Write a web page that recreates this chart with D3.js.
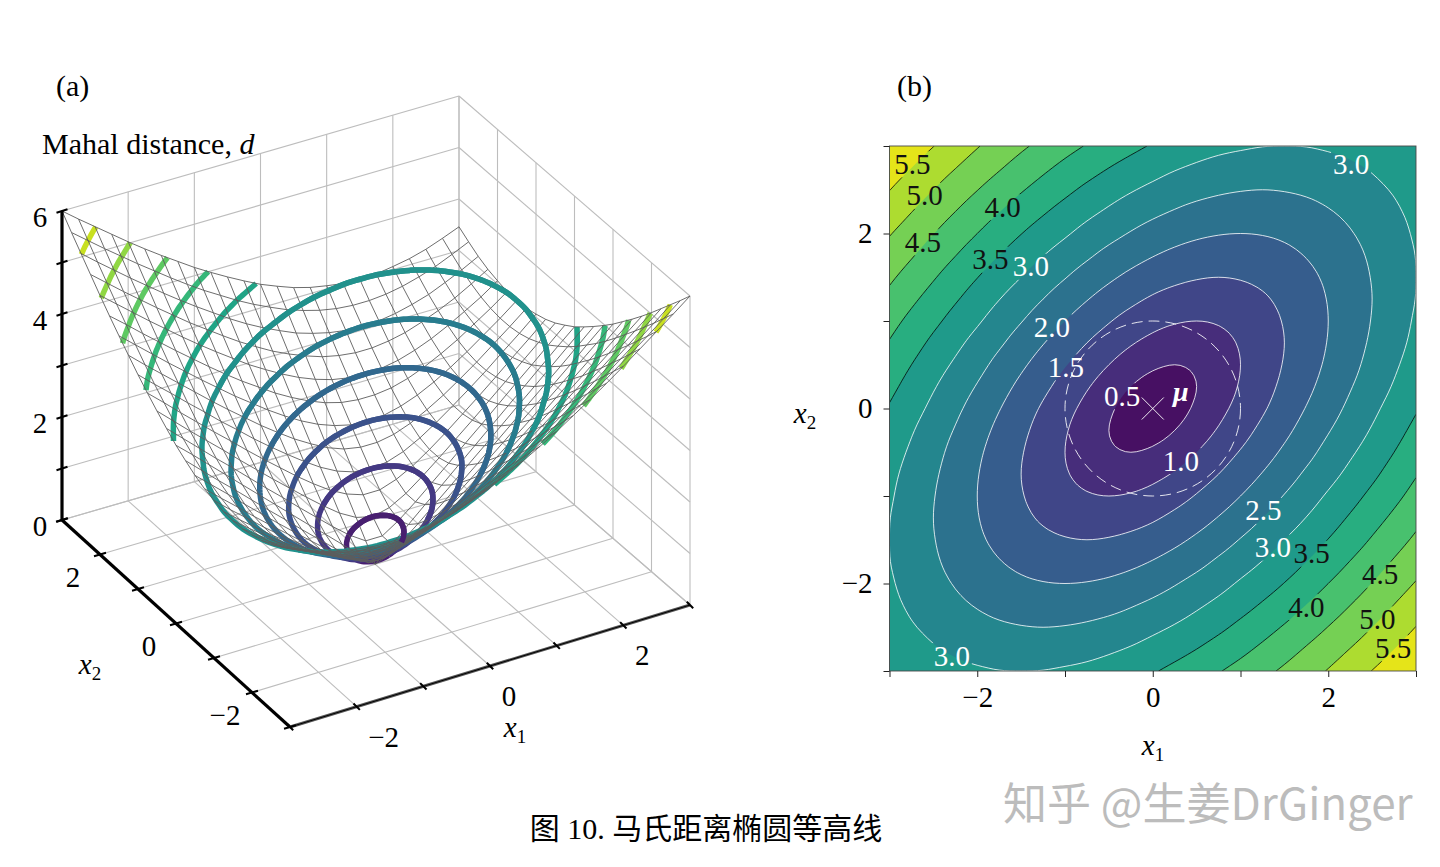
<!DOCTYPE html>
<html>
<head>
<meta charset="utf-8">
<script src="https://cdn.jsdelivr.net/npm/d3@7"></script>
<style>
  html, body { margin: 0; padding: 0; background: #fff; }
  text { font-family: "Liberation Serif", serif; fill: #000; }
</style>
</head>
<body>
<div id="chart"></div>
<script>
// grid positions of the mesh
const x1Values = [-3, -2.75, -2.5, -2.25, -2, -1.75, -1.5, -1.25, -1, -0.75, -0.5, -0.25, 0, 0.25, 0.5, 0.75, 1, 1.25, 1.5, 1.75, 2, 2.25, 2.5, 2.75, 3];
const x2Values = [3, 2.75, 2.5, 2.25, 2, 1.75, 1.5, 1.25, 1, 0.75, 0.5, 0.25, 0, -0.25, -0.5, -0.75, -1, -1.25, -1.5, -1.75, -2, -2.25, -2.5, -2.75, -3];

// d, one row per x2 (top row x2 = 3), columns x1 = -3..3
const distanceRows = [
  [6.00, 5.75, 5.51, 5.27, 5.03, 4.80, 4.58, 4.37, 4.16, 3.97, 3.79, 3.62, 3.46, 3.33, 3.21, 3.12, 3.06, 3.01, 3.00, 3.01, 3.06, 3.12, 3.21, 3.33, 3.46],
  [5.75, 5.50, 5.25, 5.01, 4.77, 4.54, 4.31, 4.09, 3.88, 3.69, 3.50, 3.33, 3.18, 3.04, 2.93, 2.84, 2.78, 2.75, 2.75, 2.78, 2.84, 2.93, 3.04, 3.18, 3.33],
  [5.51, 5.25, 5.00, 4.75, 4.51, 4.27, 4.04, 3.82, 3.61, 3.40, 3.21, 3.04, 2.89, 2.75, 2.65, 2.57, 2.52, 2.50, 2.52, 2.57, 2.65, 2.75, 2.89, 3.04, 3.21],
  [5.27, 5.01, 4.75, 4.50, 4.25, 4.01, 3.77, 3.55, 3.33, 3.12, 2.93, 2.75, 2.60, 2.47, 2.36, 2.29, 2.25, 2.25, 2.29, 2.36, 2.47, 2.60, 2.75, 2.93, 3.12],
  [5.03, 4.77, 4.51, 4.25, 4.00, 3.75, 3.51, 3.28, 3.06, 2.84, 2.65, 2.47, 2.31, 2.18, 2.08, 2.02, 2.00, 2.02, 2.08, 2.18, 2.31, 2.47, 2.65, 2.84, 3.06],
  [4.80, 4.54, 4.27, 4.01, 3.75, 3.50, 3.25, 3.01, 2.78, 2.57, 2.36, 2.18, 2.02, 1.89, 1.80, 1.76, 1.76, 1.80, 1.89, 2.02, 2.18, 2.36, 2.57, 2.78, 3.01],
  [4.58, 4.31, 4.04, 3.77, 3.51, 3.25, 3.00, 2.75, 2.52, 2.29, 2.08, 1.89, 1.73, 1.61, 1.53, 1.50, 1.53, 1.61, 1.73, 1.89, 2.08, 2.29, 2.52, 2.75, 3.00],
  [4.37, 4.09, 3.82, 3.55, 3.28, 3.01, 2.75, 2.50, 2.25, 2.02, 1.80, 1.61, 1.44, 1.32, 1.26, 1.26, 1.32, 1.44, 1.61, 1.80, 2.02, 2.25, 2.50, 2.75, 3.01],
  [4.16, 3.88, 3.61, 3.33, 3.06, 2.78, 2.52, 2.25, 2.00, 1.76, 1.53, 1.32, 1.15, 1.04, 1.00, 1.04, 1.15, 1.32, 1.53, 1.76, 2.00, 2.25, 2.52, 2.78, 3.06],
  [3.97, 3.69, 3.40, 3.12, 2.84, 2.57, 2.29, 2.02, 1.76, 1.50, 1.26, 1.04, 0.87, 0.76, 0.76, 0.87, 1.04, 1.26, 1.50, 1.76, 2.02, 2.29, 2.57, 2.84, 3.12],
  [3.79, 3.50, 3.21, 2.93, 2.65, 2.36, 2.08, 1.80, 1.53, 1.26, 1.00, 0.76, 0.58, 0.50, 0.58, 0.76, 1.00, 1.26, 1.53, 1.80, 2.08, 2.36, 2.65, 2.93, 3.21],
  [3.62, 3.33, 3.04, 2.75, 2.47, 2.18, 1.89, 1.61, 1.32, 1.04, 0.76, 0.50, 0.29, 0.29, 0.50, 0.76, 1.04, 1.32, 1.61, 1.89, 2.18, 2.47, 2.75, 3.04, 3.33],
  [3.46, 3.18, 2.89, 2.60, 2.31, 2.02, 1.73, 1.44, 1.15, 0.87, 0.58, 0.29, 0.00, 0.29, 0.58, 0.87, 1.15, 1.44, 1.73, 2.02, 2.31, 2.60, 2.89, 3.18, 3.46],
  [3.33, 3.04, 2.75, 2.47, 2.18, 1.89, 1.61, 1.32, 1.04, 0.76, 0.50, 0.29, 0.29, 0.50, 0.76, 1.04, 1.32, 1.61, 1.89, 2.18, 2.47, 2.75, 3.04, 3.33, 3.62],
  [3.21, 2.93, 2.65, 2.36, 2.08, 1.80, 1.53, 1.26, 1.00, 0.76, 0.58, 0.50, 0.58, 0.76, 1.00, 1.26, 1.53, 1.80, 2.08, 2.36, 2.65, 2.93, 3.21, 3.50, 3.79],
  [3.12, 2.84, 2.57, 2.29, 2.02, 1.76, 1.50, 1.26, 1.04, 0.87, 0.76, 0.76, 0.87, 1.04, 1.26, 1.50, 1.76, 2.02, 2.29, 2.57, 2.84, 3.12, 3.40, 3.69, 3.97],
  [3.06, 2.78, 2.52, 2.25, 2.00, 1.76, 1.53, 1.32, 1.15, 1.04, 1.00, 1.04, 1.15, 1.32, 1.53, 1.76, 2.00, 2.25, 2.52, 2.78, 3.06, 3.33, 3.61, 3.88, 4.16],
  [3.01, 2.75, 2.50, 2.25, 2.02, 1.80, 1.61, 1.44, 1.32, 1.26, 1.26, 1.32, 1.44, 1.61, 1.80, 2.02, 2.25, 2.50, 2.75, 3.01, 3.28, 3.55, 3.82, 4.09, 4.37],
  [3.00, 2.75, 2.52, 2.29, 2.08, 1.89, 1.73, 1.61, 1.53, 1.50, 1.53, 1.61, 1.73, 1.89, 2.08, 2.29, 2.52, 2.75, 3.00, 3.25, 3.51, 3.77, 4.04, 4.31, 4.58],
  [3.01, 2.78, 2.57, 2.36, 2.18, 2.02, 1.89, 1.80, 1.76, 1.76, 1.80, 1.89, 2.02, 2.18, 2.36, 2.57, 2.78, 3.01, 3.25, 3.50, 3.75, 4.01, 4.27, 4.54, 4.80],
  [3.06, 2.84, 2.65, 2.47, 2.31, 2.18, 2.08, 2.02, 2.00, 2.02, 2.08, 2.18, 2.31, 2.47, 2.65, 2.84, 3.06, 3.28, 3.51, 3.75, 4.00, 4.25, 4.51, 4.77, 5.03],
  [3.12, 2.93, 2.75, 2.60, 2.47, 2.36, 2.29, 2.25, 2.25, 2.29, 2.36, 2.47, 2.60, 2.75, 2.93, 3.12, 3.33, 3.55, 3.77, 4.01, 4.25, 4.50, 4.75, 5.01, 5.27],
  [3.21, 3.04, 2.89, 2.75, 2.65, 2.57, 2.52, 2.50, 2.52, 2.57, 2.65, 2.75, 2.89, 3.04, 3.21, 3.40, 3.61, 3.82, 4.04, 4.27, 4.51, 4.75, 5.00, 5.25, 5.51],
  [3.33, 3.18, 3.04, 2.93, 2.84, 2.78, 2.75, 2.75, 2.78, 2.84, 2.93, 3.04, 3.18, 3.33, 3.50, 3.69, 3.88, 4.09, 4.31, 4.54, 4.77, 5.01, 5.25, 5.50, 5.75],
  [3.46, 3.33, 3.21, 3.12, 3.06, 3.01, 3.00, 3.01, 3.06, 3.12, 3.21, 3.33, 3.46, 3.62, 3.79, 3.97, 4.16, 4.37, 4.58, 4.80, 5.03, 5.27, 5.51, 5.75, 6.00]
];

const bandLevels = [0, 0.5, 1, 1.5, 2, 2.5, 3, 3.5, 4, 4.5, 5, 5.5];
const lineLevels = [0.5, 1, 1.5, 2, 2.5, 3, 3.5, 4, 4.5, 5, 5.5];

const ticksAll = [-3, -2, -1, 0, 1, 2, 3];
const ticksLabelled = [-2, 0, 2];
const zTicksAll = [0, 1, 2, 3, 4, 5, 6];
const zTicksLabelled = [0, 2, 4, 6];

// inline contour labels of panel (b)
const labelLevels = [3, 3, 2, 1.5, 0.5, 1, 2.5, 3, 3, 5.5, 5, 4, 4.5, 3.5, 3.5, 4.5, 4, 5, 5.5];
const labelX1 = [2.26, -1.39, -1.15, -0.99, -0.35, 0.32, 1.26, 1.37, -2.29, -2.74, -2.60, -1.71, -2.62, -1.85, 1.81, 2.59, 1.75, 2.56, 2.74];
const labelX2 = [2.79, 1.62, 0.93, 0.47, 0.14, -0.60, -1.17, -1.59, -2.83, 2.79, 2.43, 2.30, 1.90, 1.70, -1.66, -1.90, -2.27, -2.41, -2.74];

const svg = d3.select("#chart").append("svg")
  .attr("width", 1440)
  .attr("height", 867);

const viridis = v => d3.interpolateViridis(v / 6);
const titleSize = 30;
const tickSize = 29;
const labelSize = 29;

// resample the squared table 4x so the contour polygons come out round;
// the outer rows are only needed as helpers for the cubic
const fine = 4;
const squared = distanceRows.map(row => row.map(d => d * d));
const rowCount = squared.length;
function cell(i, j) {
  if (j < 0) return 3 * cell(i, 0) - 3 * cell(i, 1) + cell(i, 2);
  if (j >= rowCount) return 3 * cell(i, rowCount - 1) - 3 * cell(i, rowCount - 2) + cell(i, rowCount - 3);
  if (i < 0) return 3 * squared[j][0] - 3 * squared[j][1] + squared[j][2];
  if (i >= rowCount) return 3 * squared[j][rowCount - 1] - 3 * squared[j][rowCount - 2] + squared[j][rowCount - 3];
  return squared[j][i];
}
function cubic(a, b, c, d, t) {
  return b + 0.5 * t * (c - a + t * (2 * a - 5 * b + 4 * c - d + t * (3 * (b - c) + d - a)));
}
const fineSize = (rowCount - 1) * fine + 1;
const flatValues = [];
for (let fy = 0; fy < fineSize; fy++) {
  const j = Math.min(Math.floor(fy / fine), rowCount - 2), ty = fy / fine - j;
  for (let fx = 0; fx < fineSize; fx++) {
    const i = Math.min(Math.floor(fx / fine), rowCount - 2), tx = fx / fine - i;
    const col = k => cubic(cell(i + k, j - 1), cell(i + k, j), cell(i + k, j + 1), cell(i + k, j + 2), ty);
    flatValues.push(cubic(col(-1), col(0), col(1), col(2), tx));
  }
}

const contourGen = d3.contours().size([fineSize, fineSize]);
const levelContour = level => contourGen.contour(flatValues, level * level);
const gridX1 = d3.scaleLinear().domain([0.5, fineSize - 0.5]).range([-3, 3]);
const gridX2 = d3.scaleLinear().domain([0.5, fineSize - 0.5]).range([3, -3]);

const straight = d3.line();

// d3.contours closes rings along the outer edge of the grid
function onBorder(c) {
  return c[0] === 0 || c[1] === 0 || c[0] === fineSize || c[1] === fineSize;
}

// splits a ring into the runs of points where test() holds
function runsOf(ring, test) {
  const pts = ring.slice(0, -1);
  const start = pts.findIndex(p => !test(p));
  if (start < 0) return {closed: true, runs: [ring]};
  const runs = [];
  let run = [];
  for (let i = 1; i <= pts.length; i++) {
    const p = pts[(start + i) % pts.length];
    if (test(p)) run.push(p);
    else {
      if (run.length > 1) runs.push(run);
      run = [];
    }
  }
  return {closed: false, runs};
}

// ---------------- panel (a) ----------------
const corner = {
  front: [290, 727],
  left: [62, 520],
  right: [690, 605],
  back: [459, 405]
};
const uScale = d3.scaleLinear().domain([-3, 3]).range([0, 1]);
const vScale = d3.scaleLinear().domain([-3, 3]).range([0, 1]);
const zScale = d3.scaleLinear().domain([0, 6]).range([0, -309]);

function project3d(x1, x2, z) {
  const u = uScale(x1), v = vScale(x2);
  const along = i => corner.front[i] * (1 - u) * (1 - v) + corner.right[i] * u * (1 - v)
    + corner.left[i] * (1 - u) * v + corner.back[i] * u * v;
  return [along(0), along(1) + zScale(z)];
}

const panelA = svg.append("g");

function gridLine(points) {
  panelA.append("path")
    .attr("d", straight(points))
    .attr("fill", "none")
    .attr("stroke", "#bdbdbd")
    .attr("stroke-width", 1.1);
}

ticksAll.forEach(t => {
  gridLine([project3d(t, -3, 0), project3d(t, 3, 0)]);   // floor
  gridLine([project3d(-3, t, 0), project3d(3, t, 0)]);
  gridLine([project3d(t, 3, 0), project3d(t, 3, 6)]);    // wall at x2 = 3
  gridLine([project3d(3, t, 0), project3d(3, t, 6)]);    // wall at x1 = 3
});
zTicksAll.forEach(z => {
  gridLine([project3d(-3, 3, z), project3d(3, 3, z)]);
  gridLine([project3d(3, 3, z), project3d(3, -3, z)]);
});

// contour rings lying on the surface
const ringLayer = panelA.append("g");
const meshLayer = panelA.append("g");
const ringTopLayer = panelA.append("g");

function ringPath(layer, d, level) {
  layer.append("path")
    .attr("d", d)
    .attr("fill", "none")
    .attr("stroke", viridis(level))
    .attr("stroke-width", 5.5);
}

lineLevels.forEach(level => {
  const toScreen = c => project3d(gridX1(c[0]), gridX2(c[1]), level);
  levelContour(level).coordinates.forEach(polygon => polygon.forEach(ring => {
    const parts = runsOf(ring, c => !onBorder(c));
    parts.runs.forEach(run => ringPath(ringLayer, straight(run.map(toScreen)), level));
    // the far side of the closed rings sits in front of the mesh
    if (parts.closed) {
      const far = runsOf(ring, c => gridX1(c[0]) + gridX2(c[1]) > -0.02 * level);
      far.runs.forEach(run => ringPath(ringTopLayer, straight(run.map(toScreen)), level));
    }
  }));
});

// wireframe
distanceRows.forEach((row, j) => {
  meshLayer.append("path")
    .attr("d", straight(row.map((d, i) => project3d(x1Values[i], x2Values[j], d))))
    .attr("fill", "none")
    .attr("stroke", "#5c5c5c")
    .attr("stroke-width", 0.9);
});
x1Values.forEach((x1, i) => {
  meshLayer.append("path")
    .attr("d", straight(distanceRows.map((row, j) => project3d(x1, x2Values[j], row[i]))))
    .attr("fill", "none")
    .attr("stroke", "#5c5c5c")
    .attr("stroke-width", 0.9);
});

// axis lines and ticks
function axisLine(points, color, width) {
  panelA.append("path")
    .attr("d", straight(points))
    .attr("fill", "none")
    .attr("stroke", color)
    .attr("stroke-width", width);
}
axisLine([project3d(-3, 3, 0), project3d(-3, 3, 6)], "#000", 3.2);
axisLine([project3d(-3, 3, 0), project3d(-3, -3, 0)], "#000", 3.2);
axisLine([project3d(-3, -3, 0), project3d(3, -3, 0)], "#555", 3);
axisLine([project3d(-3, -3, 0), project3d(3, -3, 0)], "#000", 1);

function tickMark(p, dx, dy) {
  axisLine([[p[0] - dx, p[1] - dy], [p[0] + dx, p[1] + dy]], "#000", 2);
}
zTicksAll.forEach(z => tickMark(project3d(-3, 3, z), 5.5, -1.7));
ticksAll.forEach(t => {
  tickMark(project3d(-3, t, 0), 6, -1.8);
  tickMark(project3d(t, -3, 0), 3.2, 3.2);
});

function plainText(x, y, str, anchor, size) {
  return svg.append("text")
    .attr("x", x)
    .attr("y", y)
    .attr("font-size", size || titleSize)
    .attr("text-anchor", anchor || "middle")
    .text(str);
}
const tickText = t => (t < 0 ? "\u2212" + Math.abs(t) : String(t));

zTicksLabelled.forEach(z => {
  const p = project3d(-3, 3, z);
  plainText(p[0] - 22, p[1] + 16, tickText(z), "middle", tickSize);
});
ticksLabelled.forEach(t => {
  const p = project3d(-3, t, 0);
  plainText(p[0] - 27, p[1] + 32, tickText(t), "middle", tickSize);
});
ticksLabelled.forEach(t => {
  const p = project3d(t, -3, 0);
  plainText(p[0] + (t < 0 ? 27 : 19), p[1] + 40, tickText(t), "middle", tickSize);
});

function axisName(x, y, sub) {
  const label = svg.append("text")
    .attr("x", x)
    .attr("y", y)
    .attr("font-size", tickSize)
    .attr("text-anchor", "middle");
  label.append("tspan").attr("font-style", "italic").text("x");
  label.append("tspan").attr("dy", 6).attr("font-size", 19).text(sub);
}
axisName(515, 737, "1");
axisName(90, 674, "2");

plainText(56, 96, "(a)", "start");
const zTitle = plainText(42, 154, "Mahal distance, ", "start");
zTitle.append("tspan").attr("font-style", "italic").text("d");

// ---------------- panel (b) ----------------
const xScale = d3.scaleLinear().domain([-3, 3]).range([889.5, 1416]);
const yScale = d3.scaleLinear().domain([-3, 3]).range([671, 146]);
const toPlot = c => [xScale(gridX1(c[0])), yScale(gridX2(c[1]))];

const defs = svg.append("defs");
defs.append("clipPath").attr("id", "plot-clip").append("rect")
  .attr("x", xScale(-3))
  .attr("y", yScale(3))
  .attr("width", xScale(3) - xScale(-3))
  .attr("height", yScale(-3) - yScale(3));

const panelB = svg.append("g").attr("clip-path", "url(#plot-clip)");

bandLevels.forEach(level => {
  const d = levelContour(level).coordinates
    .map(polygon => polygon.map(ring => straight(ring.map(toPlot)) + "Z").join(""))
    .join("");
  panelB.append("path")
    .attr("d", d)
    .attr("fill", viridis(level + 0.25))
    .attr("fill-rule", "evenodd");
});

// each level gets a mask that opens a gap under its own labels
lineLevels.forEach((level, n) => {
  const mask = defs.append("mask")
    .attr("id", "gap-" + n)
    .attr("maskUnits", "userSpaceOnUse")
    .attr("x", 880).attr("y", 140).attr("width", 545).attr("height", 540);
  mask.append("rect")
    .attr("x", 880).attr("y", 140).attr("width", 545).attr("height", 540)
    .attr("fill", "#fff");
  labelLevels.forEach((l, k) => {
    if (l !== level) return;
    mask.append("rect")
      .attr("x", xScale(labelX1[k]) - 20)
      .attr("y", yScale(labelX2[k]) - 13)
      .attr("width", 40)
      .attr("height", 26)
      .attr("fill", "#000");
  });

  const lineGroup = panelB.append("g").attr("mask", "url(#gap-" + n + ")");
  levelContour(level).coordinates.forEach(polygon => polygon.forEach(ring => {
    runsOf(ring, c => !onBorder(c)).runs.forEach(run => {
      lineGroup.append("path")
        .attr("d", straight(run.map(toPlot)))
        .attr("fill", "none")
        .attr("stroke", level <= 3 ? "#fff" : "#000")
        .attr("stroke-opacity", level <= 3 ? 0.9 : 0.85)
        .attr("stroke-width", 0.9);
    });
  }));
});

// unit circle and the centre mark
panelB.append("ellipse")
  .attr("cx", xScale(0))
  .attr("cy", yScale(0))
  .attr("rx", xScale(1) - xScale(0))
  .attr("ry", yScale(0) - yScale(1))
  .attr("fill", "none")
  .attr("stroke", "#fff")
  .attr("stroke-opacity", 0.85)
  .attr("stroke-width", 1)
  .attr("stroke-dasharray", "11 6");

[[1, 1], [1, -1]].forEach(dir => {
  panelB.append("line")
    .attr("x1", xScale(0) - 11 * dir[0])
    .attr("y1", yScale(0) - 11 * dir[1])
    .attr("x2", xScale(0) + 11 * dir[0])
    .attr("y2", yScale(0) + 11 * dir[1])
    .attr("stroke", "#fff")
    .attr("stroke-width", 0.9);
});

// frame and axes
svg.append("rect")
  .attr("x", xScale(-3))
  .attr("y", yScale(3))
  .attr("width", xScale(3) - xScale(-3))
  .attr("height", yScale(-3) - yScale(3))
  .attr("fill", "none")
  .attr("stroke", "#4a4a4a")
  .attr("stroke-width", 0.9);

const bottomAxis = d3.axisBottom(xScale)
  .tickValues(ticksAll)
  .tickSize(6)
  .tickPadding(9)
  .tickFormat(t => (ticksLabelled.includes(t) ? tickText(t) : ""));
const leftAxis = d3.axisLeft(yScale)
  .tickValues(ticksAll)
  .tickSize(6)
  .tickPadding(11)
  .tickFormat(t => (ticksLabelled.includes(t) ? tickText(t) : ""));

const xAxisG = svg.append("g")
  .attr("transform", `translate(0, ${yScale(-3)})`)
  .call(bottomAxis);
const yAxisG = svg.append("g")
  .attr("transform", `translate(${xScale(-3)}, 0)`)
  .call(leftAxis);
[xAxisG, yAxisG].forEach(g => {
  g.select(".domain").remove();
  g.selectAll("line").attr("stroke", "#222");
  g.selectAll("text").attr("font-size", tickSize).attr("font-family", "Liberation Serif").attr("fill", "#000");
});

// inline labels
labelLevels.forEach((level, k) => {
  svg.append("text")
    .attr("x", xScale(labelX1[k]))
    .attr("y", yScale(labelX2[k]) + 9.5)
    .attr("font-size", labelSize)
    .attr("text-anchor", "middle")
    .style("fill", level <= 3 ? "#fff" : "#111")
    .text(level.toFixed(1));
});

svg.append("text")
  .attr("x", xScale(0) + 28)
  .attr("y", yScale(0) - 8)
  .attr("font-size", 28)
  .attr("font-weight", "bold")
  .attr("font-style", "italic")
  .attr("text-anchor", "middle")
  .style("fill", "#fff")
  .text("\u03bc");

axisName(1153, 755, "1");
axisName(805, 423, "2");
plainText(897, 96, "(b)", "start");

// caption and mark
svg.append("text")
  .attr("x", 706)
  .attr("y", 839)
  .attr("font-size", 30)
  .attr("text-anchor", "middle")
  .style("font-family", "'Liberation Serif', 'Noto Sans CJK SC'")
  .text("图 10. 马氏距离椭圆等高线");

svg.append("text")
  .attr("x", 1003)
  .attr("y", 820)
  .attr("font-size", 44)
  .style("font-family", "'Noto Sans CJK SC'")
  .style("fill", "#bcbcbc")
  .text("知乎 @生姜DrGinger");
</script>
</body>
</html>
